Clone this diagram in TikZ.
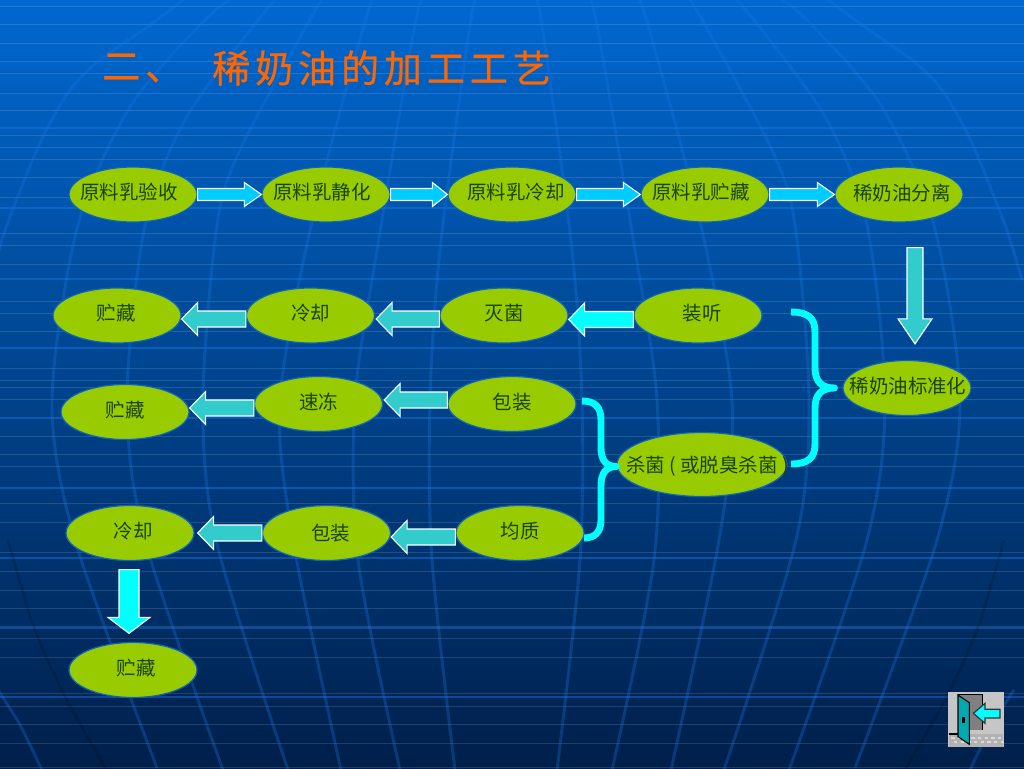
\documentclass[tikz,border=0pt]{standalone}
\usepackage{fontspec}
\usetikzlibrary{shapes.geometric,calc}
\setmainfont{Noto Sans CJK SC}
\newfontfamily\titlefont[LetterSpace=13,FakeBold=0.5]{Noto Sans CJK SC}
\definecolor{bgtop}{HTML}{0068D0}
\definecolor{bgmid}{HTML}{00468F}
\definecolor{bgbot}{HTML}{001F4A}
\definecolor{merid}{HTML}{1A78E8}
\definecolor{olive}{HTML}{99CC00}
\definecolor{ovaledge}{HTML}{0A64C0}
\definecolor{inktext}{HTML}{1B4400}
\definecolor{sky}{HTML}{00CCFF}
\definecolor{aqua}{HTML}{00FFFF}
\definecolor{teal1}{HTML}{33CCCC}
\definecolor{doorcol}{HTML}{00A8B0}
\definecolor{titlecol}{HTML}{FF6600}
\tikzset{
  ovalbox/.style={ellipse,fill=olive,draw=ovaledge,line width=.9pt,minimum width=96pt,minimum height=41.25pt,inner sep=0pt},
  labeltext/.style={text=inktext,font=\fontsize{14.6pt}{16pt}\selectfont,inner sep=0pt},
  blockarrow/.style={draw=white,line width=.8pt,line join=miter},
  brace/.style={draw=aqua,line width=5.2pt,line cap=butt,line join=round},
  thinrule/.style={draw=white,opacity=.13,line width=.7pt},
  thickrule/.style={draw=merid,opacity=.45,line width=1.6pt},
  meridian/.style={draw=merid,opacity=.3,line width=2.2pt},
  darkmeridian/.style={draw=black,opacity=.15,line width=2pt}
}
% name, x, y, text, text dx, text dy
\newcommand{\ovalat}[6]{\node[ovalbox,label={[labeltext,xshift={0.75pt*(#5)},yshift={-0.75pt*(#6)}]center:#4}] (#1) at (#2,#3) {};}
% fill, from, to, shaft half, head half, head length (px)
\newcommand{\barrow}[6]{
  \coordinate (bs) at (#2);
  \coordinate (bt) at (#3);
  \coordinate (bn) at ($(bt)!#6*0.75pt!(bs)$);
  \draw[blockarrow,fill=#1]
    ($(bs)!#4*0.75pt!90:(bt)$) -- ($(bn)!#4*0.75pt!90:(bt)$) -- ($(bn)!#5*0.75pt!90:(bt)$) -- (bt)
    -- ($(bn)!#5*0.75pt!-90:(bt)$) -- ($(bn)!#4*0.75pt!-90:(bt)$) -- ($(bs)!#4*0.75pt!-90:(bt)$) -- cycle;
}
\begin{document}
\begin{tikzpicture}[x=0.75pt,y=-0.75pt]
\useasboundingbox (0,0) rectangle (1024,768);
\clip (0,0) rectangle (1024,768);
\shade[top color=bgtop,middle color=bgmid,bottom color=bgbot] (0,0) rectangle (1024,768);
% horizontal rules
\foreach \yy in {6,24,43,61,73,93,110,135,147,159,177,197,233,245,264,301,313,331,368,380,387,399,436,454,466,503,522,552,571,590,608,626,638,657,693,706,724,743,767}
  \draw[thinrule] (0,\yy) -- (1024,\yy);
\foreach \yy in {128,208,279,348,418,488,558,628,697}
  \draw[thickrule] (0,\yy) -- (1024,\yy);
% globe meridians, mirrored about x=506
\foreach \s/\o in {1/0,-1/1012}{
\begin{scope}[xshift={\o*0.75pt},xscale=\s]
\draw[meridian] plot[smooth] coordinates {(190,-5) (150,25) (100,60) (70,90) (40,143) (7,225) (-10,280)};
\draw[meridian] plot[smooth] coordinates {(235,-5) (200,25) (130,107) (78,225) (52,400) (75,540) (157,768)};
\draw[meridian] plot[smooth] coordinates {(280,-5) (254,25) (185,120) (145,225) (127,400) (145,540) (223,770)};
\draw[meridian] plot[smooth] coordinates {(325,-5) (307,25) (240,150) (217,225) (203,400) (216,540) (288,770)};
\draw[meridian] plot[smooth] coordinates {(375,-5) (364,25) (313,217) (280,400) (293,540) (341,770)};
\draw[meridian] plot[smooth] coordinates {(425,-5) (415,25) (377,250) (355,400) (358,560) (400,770)};
\draw[meridian] plot[smooth] coordinates {(478,-5) (470,25) (440,250) (430,400) (432,560) (455,770)};
\draw[darkmeridian] plot[smooth] coordinates {(8,540) (35,630) (67,700) (107,770)};
\draw[meridian] plot[smooth] coordinates {(-2,690) (20,725) (42,770)};
\end{scope}}
% title
\node[anchor=west,inner sep=0pt,text=titlecol,font=\fontsize{28.5pt}{30pt}\titlefont] (titlea) at (102,68) {二、};
\node[anchor=west,inner sep=0pt,text=titlecol,font=\fontsize{28.5pt}{30pt}\titlefont] (titleb) at (212,68) {稀奶油的加工工艺};
% ovals
\ovalat{a1}{133}{194.5}{原料乳验收}{-4}{-2}
\ovalat{a2}{326}{194.5}{原料乳静化}{-4}{-2}
\ovalat{a3}{512}{194.5}{原料乳冷却}{4}{-2}
\ovalat{a4}{705}{194.5}{原料乳贮藏}{-4}{-2}
\ovalat{a5}{899}{194.5}{稀奶油分离}{3}{-1}
\ovalat{b1}{117}{315.5}{贮藏}{-1}{-2}
\ovalat{b2}{310.5}{315.5}{冷却}{0}{-2}
\ovalat{b3}{504}{315.5}{灭菌}{0}{-2}
\ovalat{b4}{698}{315.5}{装听}{4}{-2}
\ovalat{c1}{125}{412}{贮藏}{0}{-2}
\ovalat{c2}{318.5}{404}{速冻}{0}{-2}
\ovalat{c3}{512}{404}{包装}{0}{-2}
\node[ovalbox,minimum width=127.5pt,minimum height=48pt,label={[labeltext,xshift=4pt,yshift=-1pt]center:杀菌 ( 或脱臭杀菌 )}] (d) at (702,464.5) {};
\ovalat{s}{907}{388}{稀奶油标准化}{1}{-2}
\ovalat{e1}{130}{533}{冷却}{3}{-2}
\ovalat{e2}{326.5}{533}{包装}{4}{0}
\ovalat{e3}{520}{533}{均质}{0}{-2}
\ovalat{f}{133}{670}{贮藏}{3}{-2}
% block arrows
\barrow{sky}{a1.east}{a2.west}{6}{12}{17}
\barrow{sky}{a2.east}{a3.west}{6}{12}{15}
\barrow{sky}{a3.east}{a4.west}{6}{12}{17}
\barrow{sky}{a4.east}{a5.west}{6}{12}{17}
\barrow{aqua}{$(b4.west)+(0,4)$}{$(b3.east)+(0,4)$}{8}{16.5}{16}
\barrow{teal1}{$(b3.west)+(0,3.5)$}{$(b2.east)+(1,3.5)$}{8}{16.5}{16}
\barrow{teal1}{$(b2.west)+(0,3.5)$}{$(b1.east)+(0,3.5)$}{8}{16.5}{16}
\barrow{teal1}{$(c3.west)+(0,-4)$}{$(c2.east)+(1,-4)$}{8}{16.5}{16}
\barrow{teal1}{$(c2.west)+(0,4)$}{$(c1.east)+(0,-4)$}{8}{16.5}{16}
\barrow{teal1}{$(e3.west)+(0,4)$}{$(e2.east)+(0,4)$}{8}{16.5}{16}
\barrow{teal1}{$(e2.west)+(0,0)$}{$(e1.east)+(3,0)$}{8}{16.5}{16}
\barrow{teal1}{$(a5.south)+(16,25)$}{$(s.north)+(8,-16)$}{8}{17}{25}
\barrow{aqua}{$(e1.south)+(-1,8.5)$}{$(f.north)+(-4,-8.5)$}{10}{21}{16}
% braces
\coordinate (brA) at ($(s.west)+(-8,0)$);
\coordinate (brB) at ($(d.west)+(0,2)$);
\draw[brace] (791,312) .. controls (808,312) and (815,318) .. (815,332) -- (815,368) .. controls (815,382) and (822,388) .. (brA) .. controls (822,388) and (815,394) .. (815,408) -- (815,444) .. controls (815,458) and (808,464) .. (791,464);
\draw[brace] (582,401) .. controls (595,401) and (601,407) .. (601,420) -- (601,448) .. controls (601,460) and (606,466.5) .. (brB) .. controls (606,466.5) and (601,473) .. (601,486) -- (601,520) .. controls (601,532) and (595,538) .. (584,538);
% exit icon
\begin{scope}[shift={(930,680)},x=0.25pt,y=-0.25pt]
\fill[gray!45!white] (54,36) rectangle (222,200);
\fill[gray!60!white] (58,162) -- (220,162) -- (220,200) -- (58,200) -- cycle;
\foreach \fx in {64,84,...,204}{\fill[gray!30!white] (\fx,170) rectangle ++(10,6); \fill[gray!30!white] (\fx+8,184) rectangle ++(10,6);}
\fill[gray] (84,43) rectangle (158,150);
\draw[black,line width=.8pt] (84,43) -- (158,43) -- (158,150);
\draw[black,line width=.8pt] (58,162) -- (84,162);
\fill[doorcol] (84,45) -- (118,68) -- (118,193) -- (84,170) -- cycle;
\draw[black,line width=.8pt] (84,45) -- (118,68) -- (118,193) -- (84,170) -- cycle;
\fill[black] (96,112) rectangle (104,128);
\draw[black!80,line width=.9pt,fill=aqua] (130,100) -- (165,70) -- (165,88) -- (210,88) -- (210,114) -- (165,114) -- (165,130) -- cycle;
\end{scope}
\end{tikzpicture}
\end{document}
